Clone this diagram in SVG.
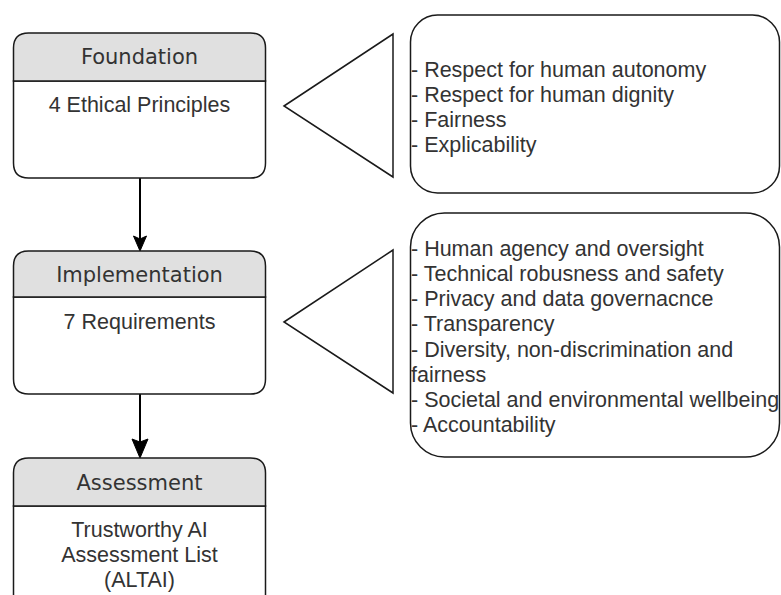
<svg xmlns="http://www.w3.org/2000/svg" width="781" height="595" viewBox="0 0 781 595">
  <style>
    .lane { fill: #ffffff; stroke: #1a1a1a; stroke-width: 1.5; }
    .head { fill: #e0e0e0; stroke: #1a1a1a; stroke-width: 1.5; }
    .title { font-family: "DejaVu Sans", Verdana, sans-serif; font-size: 21px; fill: #333333; text-anchor: middle; }
    .body { font-family: "Liberation Sans", Arial, sans-serif; font-size: 21.5px; fill: #333333; text-anchor: middle; }
    .note { fill: #ffffff; stroke: #1a1a1a; stroke-width: 1.5; }
    .list { font-family: "Liberation Sans", Arial, sans-serif; font-size: 21.5px; fill: #333333; }
    .tri { fill: #ffffff; stroke: #1a1a1a; stroke-width: 1.5; stroke-linejoin: miter; }
    .edge { stroke: #000000; stroke-width: 2; fill: none; }
    .tip { fill: #000000; stroke: #000000; stroke-width: 1; stroke-linejoin: miter; }
  </style>

  <!-- vertical flow connectors -->
  <g id="connectors">
    <line class="edge" x1="140" y1="178" x2="140" y2="240"/>
    <path class="tip" d="M140 251 L133.5 236 L140 239 L146.5 236 Z"/>
    <line class="edge" x1="140" y1="394" x2="140" y2="444"/>
    <path class="tip" d="M140 458 L132 439 L140 442 L148 439 Z"/>
  </g>

  <!-- stage: Foundation -->
  <g id="foundation">
    <path class="lane" d="M13.5 81 H265.5 V163 Q265.5 178 250.5 178 H28.5 Q13.5 178 13.5 163 Z"/>
    <path class="head" d="M28.5 33 H250.5 Q265.5 33 265.5 48 V81 H13.5 V48 Q13.5 33 28.5 33 Z"/>
    <text class="title" x="139.5" y="64">Foundation</text>
    <text class="body" x="139.5" y="112">4 Ethical Principles</text>
  </g>

  <!-- stage: Implementation -->
  <g id="implementation">
    <path class="lane" d="M13.5 297 H265.5 V379 Q265.5 394 250.5 394 H28.5 Q13.5 394 13.5 379 Z"/>
    <path class="head" d="M28.5 251 H250.5 Q265.5 251 265.5 266 V297 H13.5 V266 Q13.5 251 28.5 251 Z"/>
    <text class="title" x="139.5" y="281.5">Implementation</text>
    <text class="body" x="139.5" y="329">7 Requirements</text>
  </g>

  <!-- stage: Assessment (runs past the lower edge) -->
  <g id="assessment">
    <path class="lane" d="M13.5 506 H265.5 V620 H13.5 Z"/>
    <path class="head" d="M28.5 458 H250.5 Q265.5 458 265.5 473 V506 H13.5 V473 Q13.5 458 28.5 458 Z"/>
    <text class="title" x="139.5" y="489.5">Assessment</text>
    <text class="body" x="139.5" y="537">Trustworthy AI</text>
    <text class="body" x="139.5" y="562">Assessment List</text>
    <text class="body" x="139.5" y="587">(ALTAI)</text>
  </g>

  <!-- pointer toward Foundation -->
  <g id="pointer-principles">
    <polygon class="tri" points="284,106 393,34 393,177"/>
  </g>

  <!-- principles note -->
  <g id="principles">
    <rect class="note" x="410.5" y="15" width="369" height="178" rx="27" ry="27"/>
    <text class="list" x="411" y="76.5">- Respect for human autonomy</text>
    <text class="list" x="411" y="101.5">- Respect for human dignity</text>
    <text class="list" x="411" y="126.5">- Fairness</text>
    <text class="list" x="411" y="151.5">- Explicability</text>
  </g>

  <!-- pointer toward Implementation -->
  <g id="pointer-requirements">
    <polygon class="tri" points="284,322 393,250 393,393"/>
  </g>

  <!-- requirements note -->
  <g id="requirements">
    <rect class="note" x="410.5" y="213" width="369" height="244" rx="34" ry="34"/>
    <text class="list" x="411" y="255.5">- Human agency and oversight</text>
    <text class="list" x="411" y="280.5">- Technical robusness and safety</text>
    <text class="list" x="411" y="305.5">- Privacy and data governacnce</text>
    <text class="list" x="411" y="331">- Transparency</text>
    <text class="list" x="411" y="356.5">- Diversity, non-discrimination and</text>
    <text class="list" x="411" y="381.5">fairness</text>
    <text class="list" x="411" y="406.5">- Societal and environmental wellbeing</text>
    <text class="list" x="411" y="432">- Accountability</text>
  </g>
</svg>
